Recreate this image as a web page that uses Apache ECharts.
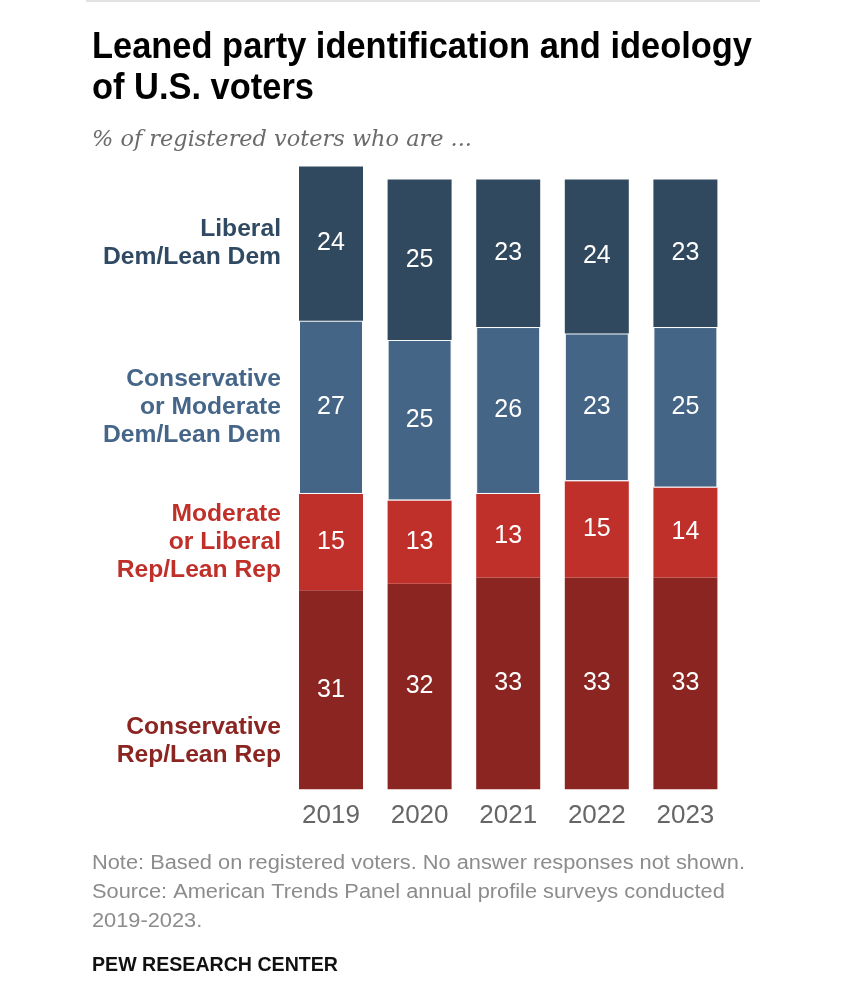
<!DOCTYPE html>
<html><head><meta charset="utf-8">
<script src="https://cdn.jsdelivr.net/npm/echarts@6/dist/echarts.min.js"></script>
<style>html,body{margin:0;padding:0;background:#fff;}#c{width:853px;height:1000px;}</style>
</head><body><div id="c"></div>
<script>
const years = ['2019', '2020', '2021', '2022', '2023'];
const liberalDem = [24, 25, 23, 24, 23];
const consModDem = [27, 25, 26, 23, 25];
const modLibRep = [15, 13, 13, 15, 14];
const consRep = [31, 32, 33, 33, 33];
const seriesNames = ['Conservative\nRep/Lean Rep', 'Moderate\nor Liberal\nRep/Lean Rep', 'Conservative\nor Moderate\nDem/Lean Dem', 'Liberal\nDem/Lean Dem'];
const seriesColors = ['#8b2521', '#c0302a', '#456586', '#30495f'];
const labelColors = ['#8b2521', '#c0302a', '#456688', '#2f4a62'];
const titleLines = ['Leaned party identification and ideology', 'of U.S. voters'];
const subtitle = '% of registered voters who are ...';
const noteLines = ['Note: Based on registered voters. No answer responses not shown.', 'Source: American Trends Panel annual profile surveys conducted', '2019-2023.'];
const credit = 'PEW RESEARCH CENTER';

const seriesData = [consRep, modLibRep, consModDem, liberalDem];
const chart = echarts.init(document.getElementById('c'), null, {renderer: 'canvas'});

const ctx = document.createElement('canvas').getContext('2d');
function fit(text, font, target) { ctx.font = font; return target / ctx.measureText(text).width; }

const titleFont = 'bold 36px "Liberation Sans", Arial, sans-serif';
const titleScale = fit(titleLines[0], titleFont, 660);
const subFont = 'italic 22px "DejaVu Serif", Georgia, serif';
const subScale = fit(subtitle, subFont, 380);
const noteFont = '20px "Liberation Sans", Arial, sans-serif';
const noteScale = fit(noteLines[0], noteFont, 653);
const creditFont = 'bold 20px "Liberation Sans", Arial, sans-serif';
const creditScale = fit(credit, creditFont, 246);
const catFont = 'bold 24px "Liberation Sans", Arial, sans-serif';
const catScale = fit('Dem/Lean Dem', catFont, 178);

function textEl(text, x, y, font, fill, sx, align) {
  return {type: 'text', x: x, y: y, scaleX: sx, silent: true,
    style: {text: text, font: font, fill: fill, textAlign: align || 'left', align: align || 'left', textVerticalAlign: 'middle', verticalAlign: 'middle'}};
}

const option = {
  animation: false,
  backgroundColor: '#fff',
  grid: {left: 286.7, right: 123.3, top: 147.3, bottom: 210.7},
  xAxis: {
    type: 'category', data: years,
    axisLine: {show: false}, axisTick: {show: false},
    axisLabel: {color: '#666', fontSize: 26, fontFamily: '"Liberation Sans", Arial, sans-serif', margin: 14}
  },
  yAxis: {type: 'value', min: 0, max: 100, show: false, splitLine: {show: false}},
  series: seriesData.map((d, i) => ({
    type: 'bar', name: seriesNames[i], stack: 'all', data: d, barWidth: 64,
    itemStyle: i === 2 ? {color: seriesColors[i], borderColor: '#fff', borderWidth: 1} : {color: seriesColors[i]},
    label: {show: true, position: 'inside', color: '#fff', fontSize: 25, fontFamily: '"Liberation Sans", Arial, sans-serif'}
  })),
  graphic: []
};
chart.setOption(option);

const g = [];
g.push({type: 'line', silent: true, shape: {x1: 86, y1: 1, x2: 760, y2: 1}, style: {stroke: '#e2e2e2', lineWidth: 2}});
g.push(textEl(titleLines[0], 92, 48, titleFont, '#000', titleScale));
g.push(textEl(titleLines[1], 92, 89, titleFont, '#000', titleScale));
g.push(textEl(subtitle, 92, 140, subFont, '#6b6b6b', subScale));
noteLines.forEach((t, i) => g.push(textEl(t, 92, 863 + i * 29, noteFont, '#8c8c8c', noteScale)));
g.push(textEl(credit, 92, 965, creditFont, '#111', creditScale));

// left-side category labels, anchored to the first (2019) bar's segments
let cum = 0;
seriesData.forEach((d, i) => {
  const lo = cum, hi = cum + d[0];
  cum = hi;
  const v = i === 0 ? lo + (hi - lo) * 0.24 : (lo + hi) / 2;
  const py = chart.convertToPixel({gridIndex: 0}, [0, v])[1];
  g.push({type: 'text', x: 281, y: py, scaleX: catScale, silent: true,
    style: {text: seriesNames[i], font: catFont, fill: labelColors[i],
      textAlign: 'right', align: 'right', textVerticalAlign: 'middle', verticalAlign: 'middle', lineHeight: 28}});
});
chart.setOption({graphic: g});
</script></body></html>
